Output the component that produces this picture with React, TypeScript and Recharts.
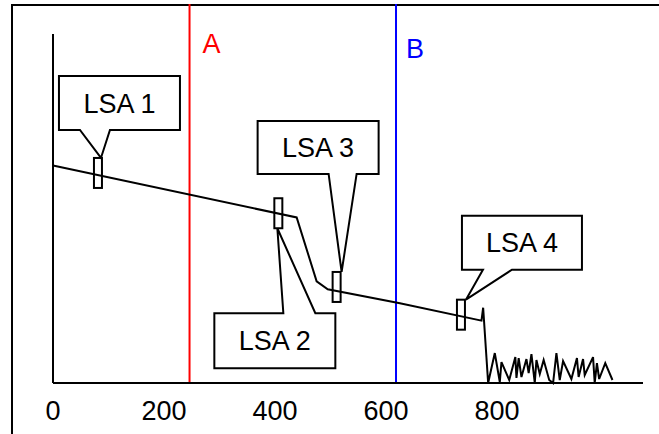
import { LineChart, Line, XAxis, YAxis, ReferenceLine, ReferenceDot } from "recharts";

// OTDR trace: distance (m) vs level (dB)
const fiberDistance = [0, 439, 475, 495, 625, 772, 775, 784];
const fiberLevel = [21.8, 16.6, 10.2, 9.4, 8.0, 6.25, 7.55, 0];

const noiseDistance = [796, 805, 808, 822, 833, 835, 839, 844, 853, 857, 862, 868, 871, 877, 884, 894, 901, 907, 913, 919, 934, 944, 947, 955, 958, 973, 976, 980, 984, 995, 1008];
const noiseLevel = [3.0, 0.1, 2.1, 0.3, 2.6, 0.5, 2.5, 0.6, 2.4, 1.0, 2.9, 0, 2.3, 0.9, 2.3, 0.3, 0, 3.0, 0.3, 2.2, 0.4, 2.5, 0.6, 2.4, 0.8, 2.6, 0, 2.0, 0.4, 2.0, 0.3];

const xTicks = [0, 200, 400, 600, 800];

const cursorNames = ["A", "B"];
const cursorDistance = [246, 618];

const lsaNames = ["LSA 1", "LSA 2", "LSA 3", "LSA 4"];
const lsaDistance = [81, 406, 511, 735];
const lsaLevel = [21.06, 17.02, 9.63, 6.85];

const data = [...fiberDistance, ...noiseDistance].map((d, i) => ({
  d,
  level: i < fiberLevel.length ? fiberLevel[i] : noiseLevel[i - fiberLevel.length],
}));

const FONT = "'Liberation Sans', Arial, sans-serif";

// callout box placement, pixels relative to the marker
const calloutLayout = [
  { left: -39, top: -97, w: 121, h: 54, tail: "bottom", b1: -18, b2: 12, tipX: 3, tipY: -15 },
  { left: -64, top: 100, w: 121, h: 55, tail: "top", b1: 5, b2: 37, tipX: -1, tipY: 15 },
  { left: -79, top: -166, w: 121, h: 53, tail: "bottom", b1: -8, b2: 20, tipX: 5, tipY: -15 },
  { left: 1, top: -99, w: 120, h: 54, tail: "bottom", b1: 22, b2: 51, tipX: 5, tipY: -15 },
];
const cursorStyle = [
  { color: "#ff0000", dx: 13, dy: 49 },
  { color: "#0000ff", dx: 10, dy: 54 },
];

const Callout = (props: any) => {
  const { cx, cy, name, lay } = props;
  if (cx == null || cy == null) return null;
  const l = cx + lay.left;
  const t = cy + lay.top;
  const r = l + lay.w;
  const b = t + lay.h;
  const tx = cx + lay.tipX;
  const ty = cy + lay.tipY;
  const path =
    lay.tail === "bottom"
      ? `M${l},${t} L${r},${t} L${r},${b} L${cx + lay.b2},${b} L${tx},${ty} L${cx + lay.b1},${b} L${l},${b} Z`
      : `M${l},${t} L${cx + lay.b1},${t} L${tx},${ty} L${cx + lay.b2},${t} L${r},${t} L${r},${b} L${l},${b} Z`;
  return (
    <g>
      <rect x={cx - 4} y={cy - 15} width={8} height={30} fill="none" stroke="#000" strokeWidth={2} />
      <path d={path} fill="#fff" stroke="#000" strokeWidth={2} strokeLinejoin="miter" />
      <text
        x={(l + r) / 2}
        y={(t + b) / 2 + 9.7}
        textAnchor="middle"
        fontSize={27}
        fontFamily={FONT}
        fill="#000"
      >
        {name}
      </text>
    </g>
  );
};

const CursorLabel = (props: any) => {
  const { viewBox, text, color, dx, dy } = props;
  if (!viewBox) return null;
  return (
    <text x={viewBox.x + dx} y={viewBox.y + dy} fill={color} fontSize={27} fontFamily={FONT}>
      {text}
    </text>
  );
};

export default function App() {
  return (
    <div style={{ position: "fixed", left: 0, top: 0, width: 659, height: 434, overflow: "hidden", background: "#fff" }}>
      <div
        style={{
          position: "absolute",
          left: 11,
          top: 4,
          width: 700,
          height: 500,
          borderTop: "2px solid #000",
          borderLeft: "2px solid #000",
        }}
      />
      <div style={{ position: "absolute", left: 0, top: 0 }}>
        <LineChart width={659} height={434} data={data} margin={{ top: 4, right: 16, bottom: 21, left: 53 }}>
          <XAxis
            dataKey="d"
            type="number"
            domain={[0, 1063]}
            ticks={xTicks}
            interval={0}
            tickLine={false}
            axisLine={{ stroke: "#000", strokeWidth: 2 }}
            tick={{ fill: "#000", fontSize: 27, fontFamily: FONT }}
            tickMargin={12}
            height={30}
          />
          <YAxis hide type="number" domain={[0, 38]} />
          <ReferenceLine
            segment={[
              { x: 0, y: 0 },
              { x: 0, y: 35 },
            ]}
            stroke="#000"
            strokeWidth={2}
          />
          {cursorDistance.map((x, i) => (
            <ReferenceLine
              key={cursorNames[i]}
              x={x}
              stroke={cursorStyle[i].color}
              strokeWidth={2}
              label={<CursorLabel text={cursorNames[i]} color={cursorStyle[i].color} dx={cursorStyle[i].dx} dy={cursorStyle[i].dy} />}
            />
          ))}
          <Line
            dataKey="level"
            type="linear"
            stroke="#000"
            strokeWidth={2}
            dot={false}
            isAnimationActive={false}
          />
          {lsaDistance.map((x, i) => (
            <ReferenceDot
              key={lsaNames[i]}
              x={x}
              y={lsaLevel[i]}
              r={0}
              shape={(p: any) => <Callout {...p} name={lsaNames[i]} lay={calloutLayout[i]} />}
            />
          ))}
        </LineChart>
      </div>
    </div>
  );
}
